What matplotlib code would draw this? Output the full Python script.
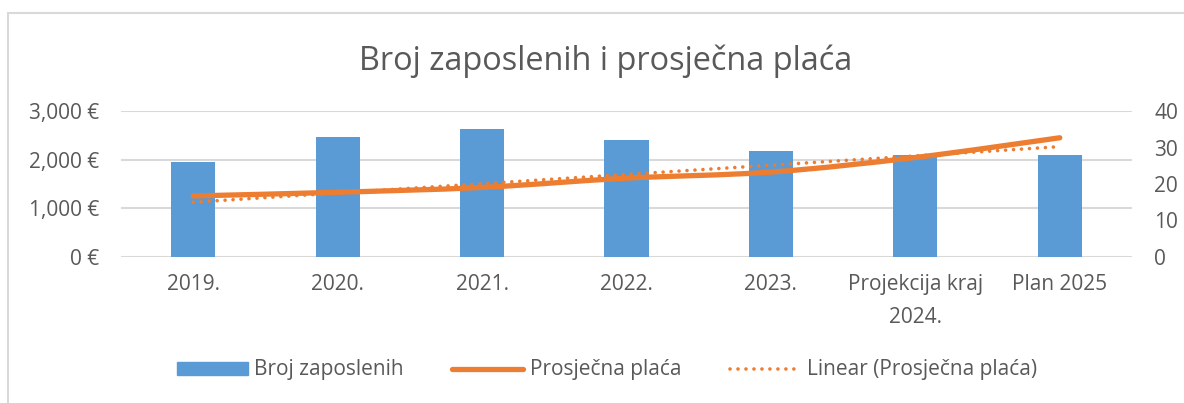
import numpy as np
import matplotlib
matplotlib.use("Agg")
import matplotlib.pyplot as plt
from matplotlib.patches import Rectangle, PathPatch
from matplotlib.path import Path
from matplotlib.lines import Line2D

# --- data ---
categories = ["2019.", "2020.", "2021.", "2022.", "2023.", "Projekcija kraj\n2024.", "Plan 2025"]
broj_zaposlenih = [26, 33, 35, 32, 29, 28, 28]
prosjecna_placa = [1255, 1330, 1430, 1620, 1745, 2045, 2450]
placa_ticks = [0, 1000, 2000, 3000]
placa_ticklabels = ["0 €", "1,000 €", "2,000 €", "3,000 €"]
zaposleni_ticks = [0, 10, 20, 30, 40]

BLUE = "#5B9BD5"
ORANGE = "#ED7D31"
TEXT = "#595959"
GRID = "#D9D9D9"

plt.rcParams["font.family"] = ["Open Sans", "DejaVu Sans"]

W, H = 1184, 403
fig = plt.figure(figsize=(W / 100, H / 100), dpi=100)

# chart border (only left/top edges visible in the crop)
fig.patches.append(Rectangle((8 / W, -0.1), 1.2, 1 - 13 / H + 0.1, transform=fig.transFigure,
                             fill=False, edgecolor=GRID, linewidth=1.5))

# plot area in pixels
x0, x1, y_top, y_bot = 121, 1132, 111, 257
ax = fig.add_axes([x0 / W, 1 - y_bot / H, (x1 - x0) / W, (y_bot - y_top) / H])
ax2 = ax.twinx()

x = np.arange(len(categories))

# bars (employees) on the right-hand axis
ax.bar(x, broj_zaposlenih, width=0.305, color=BLUE, label="Broj zaposlenih", zorder=2)
ax.set_ylim(0, 40)
ax.set_yticks(zaposleni_ticks)
ax.yaxis.tick_right()
ax.set_xlim(-0.5, len(categories) - 0.5)
ax.set_xticks(x)
ax.set_xticklabels(categories, linespacing=1.75)

# gridlines follow the left (salary) axis but sit behind the bars
for v in placa_ticks:
    ax.axhline(v * 40 / 3000, color=GRID, linewidth=1.5, zorder=0)

# average salary as a smoothed line (Excel-style, Catmull-Rom bezier through the points)
pts = np.column_stack([x, prosjecna_placa]).astype(float)
ext_pts = np.vstack([pts[0], pts, pts[-1]])
verts, codes = [pts[0]], [Path.MOVETO]
for i in range(len(pts) - 1):
    p0, p1, p2, p3 = ext_pts[i], ext_pts[i + 1], ext_pts[i + 2], ext_pts[i + 3]
    verts += [p1 + (p2 - p0) / 6, p2 - (p3 - p1) / 6, p2]
    codes += [Path.CURVE4] * 3
ax2.add_patch(PathPatch(Path(verts, codes), fill=False, edgecolor=ORANGE, linewidth=3.8,
                        capstyle="round", joinstyle="round", zorder=4))

# linear trendline of the salary
coef = np.polyfit(x, prosjecna_placa, 1)
ax2.plot(x, np.polyval(coef, x), color=ORANGE, linewidth=2.6, linestyle=(0, (0.01, 2.2)),
         dash_capstyle="round", zorder=3)
ax2.set_ylim(0, 3000)
ax2.set_yticks(placa_ticks)
ax2.set_yticklabels(placa_ticklabels)
ax2.yaxis.tick_left()

for a in (ax, ax2):
    for s in a.spines.values():
        s.set_visible(False)
    a.tick_params(length=0, labelsize=15, labelcolor=TEXT)
ax.tick_params(axis="x", pad=12)
ax.tick_params(axis="y", pad=16)
ax2.tick_params(axis="y", pad=16)

fig.text(606 / W, 1 - 61 / H, "Broj zaposlenih i prosječna plaća", ha="center", va="center",
         fontsize=23.4, color=TEXT)

handles = [
    Rectangle((0, 0), 1, 1, color=BLUE),
    Line2D([], [], color=ORANGE, linewidth=3.8, solid_capstyle="round"),
    Line2D([], [], color=ORANGE, linewidth=2.6, linestyle=(0, (0.01, 2.2)), dash_capstyle="round"),
]
labels = ["Broj zaposlenih", "Prosječna plaća", "Linear (Prosječna plaća)"]
leg = fig.legend(handles, labels, loc="center", bbox_to_anchor=(607 / W, 1 - 370 / H), ncol=3,
                 frameon=False, fontsize=15, handlelength=3.4, handleheight=0.6,
                 columnspacing=2.35, handletextpad=0.3)
for t in leg.get_texts():
    t.set_color(TEXT)

fig.savefig("out.png", dpi=100)
